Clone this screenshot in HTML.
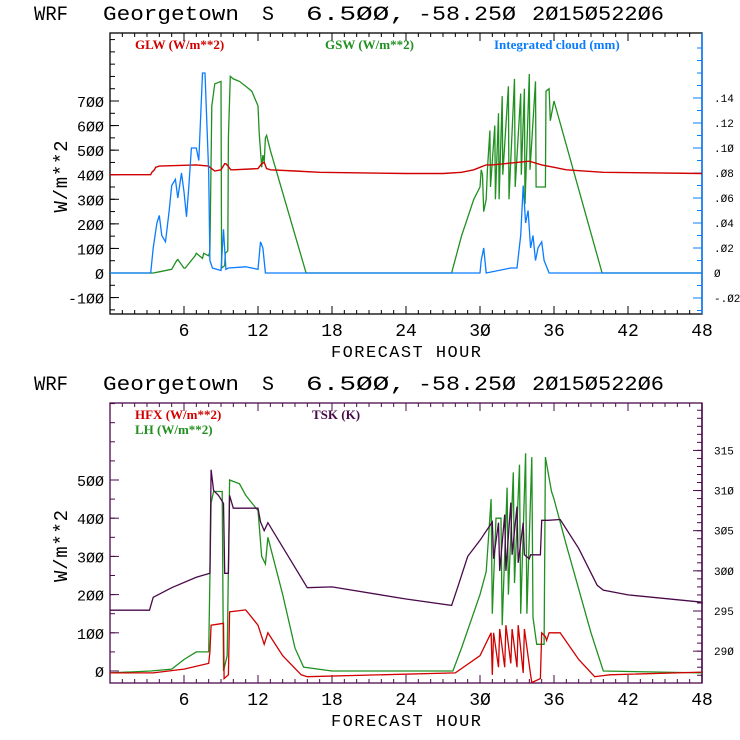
<!DOCTYPE html>
<html><head><meta charset="utf-8"><style>
body{margin:0;background:#fff;}
svg{display:block;font-family:"Liberation Mono",monospace;}
</style></head><body>
<svg id="c" width="740" height="740" xmlns="http://www.w3.org/2000/svg">
<rect width="740" height="740" fill="#fff"/>
</svg>
<script>
// ---------- data ----------
const glwHours=[0,3.3,3.4,3.6,3.7,4,7,8,8.1,8.5,9,9.3,9.4,9.8,10,12,12.3,12.5,12.7,13,15,17,24,27,28.5,29.5,30,30.5,31,32,33,34,35,36,37,40,48];
const glwVals=[400,400,410,420,430,435,440,435,430,415,420,445,445,420,420,425,445,450,425,420,415,410,405,405,410,420,430,440,440,445,450,455,440,430,420,410,405];
const gswHours=[0,3.5,4,5,5.4,5.5,6,6.1,6.9,7,7.5,7.6,8,8.1,8.25,8.5,9.0,9.05,9.3,9.35,9.55,9.6,9.75,10,10.5,11,11.5,12,12.1,12.3,12.4,12.5,12.6,12.7,13,15.9,27.7,28.5,29.5,30,30.1,30.2,30.3,30.5,30.6,30.8,30.85,31.2,31.25,31.5,31.55,31.8,31.85,32.3,32.35,32.8,32.85,33.3,33.35,33.6,33.65,34.0,34.05,34.5,34.55,35.3,35.35,35.6,35.7,36,39.9,48];
const gswVals=[0,0,5,15,50,55,20,20,70,80,60,80,70,90,680,770,780,20,30,80,90,550,800,790,780,760,740,680,570,430,480,450,550,560,500,0,0,150,300,350,420,400,250,300,420,580,350,600,300,650,300,720,400,760,300,790,350,730,400,750,280,810,420,780,350,350,740,750,620,700,0,0];
const cloudHours=[0,3.3,3.5,3.8,4,4.2,4.5,4.8,5,5.3,5.5,5.8,6,6.2,6.4,6.6,7,7.2,7.5,7.7,8,8.1,8.3,9,9.2,9.4,9.6,11,12,12.2,12.4,12.6,30,30.1,30.3,30.5,32.5,33,33.3,33.5,33.7,33.9,34.1,34.3,34.5,34.7,35,35.2,35.4,35.6,48];
const cloudVals=[0,0,0.02,0.04,0.046,0.03,0.025,0.05,0.07,0.075,0.06,0.08,0.065,0.045,0.07,0.1,0.1,0.09,0.16,0.16,0.08,0.01,0.004,0.002,0.035,0.003,0.004,0.005,0.003,0.025,0.02,0,0,0.01,0.02,0,0.004,0.004,0.03,0.07,0.04,0.05,0.02,0.03,0.01,0.02,0.025,0.01,0.005,0,0];
const hfxHours=[0,3.5,6,8,8.1,8.2,9.2,9.25,9.6,9.7,11,12,12.3,12.5,12.8,14,15.5,16,28,30,30.9,31,31.1,31.5,31.6,32,32.1,32.5,32.6,33,33.1,33.5,33.6,34.1,34.2,34.9,35,35.3,35.4,35.6,36,36.5,38,39.3,40,40.5,48];
const hfxVals=[-5,-5,5,20,50,120,125,-20,-10,155,160,120,90,70,100,40,-10,-15,-5,40,100,-10,100,10,110,10,120,20,110,10,120,-5,110,-10,-30,-20,100,90,80,100,100,100,30,-15,-12,-10,-3];
const lhHours=[0,3.3,5,6,7,8.0,8.2,8.4,9.1,9.2,9.5,9.7,10.5,11,12,12.3,12.6,12.8,14,15,15.7,18,27.8,28.5,30,30.5,30.9,31,31.3,31.7,31.8,32.2,32.3,32.7,32.8,33.2,33.3,33.7,33.8,34.2,34.3,34.6,35.2,35.3,35.8,36,37,39,40,48];
const lhVals=[-5,0,5,30,50,50,440,470,470,0,40,500,490,460,420,300,280,350,200,60,10,0,0,60,200,260,450,150,400,400,120,480,200,520,230,540,150,570,150,560,140,70,70,560,470,450,330,100,0,-5];
const tskHours=[0,3.2,3.5,5,7,8.1,8.2,8.4,8.8,9.2,9.3,9.6,9.7,10,12,12.2,12.5,12.8,16,18,24,27.7,28.2,29,30,31,31.1,31.5,31.6,32,32.1,32.5,32.6,33,33.1,33.5,33.6,34,34.1,34.9,35,35.5,36.5,38,39.5,40,42,48];
const tskVals=[295.1,295.1,296.7,297.9,299.2,299.7,312.6,310,309.4,308.4,299.7,299.7,309.4,307.8,307.8,306.1,305,306,297.9,298,296.5,295.7,298,301.8,303.8,306.1,301.5,306,300,307,300,308.5,302,308,301,306,302,301.5,302,302,306.3,306.3,306.4,302.8,298.2,297.6,297,296.1];
const hourTicks=[6,12,18,24,30,36,42,48];
const topLeftTicks=[-100,0,100,200,300,400,500,600,700];
const topRightTicks=[-0.02,0,0.02,0.04,0.06,0.08,0.10,0.12,0.14];
const botLeftTicks=[0,100,200,300,400,500];
const botRightTicks=[290,295,300,305,310,315];

// ---------- helpers ----------
const svg=document.getElementById('c');
const NS='http://www.w3.org/2000/svg';
function mk(tag,attrs,parent){const e=document.createElementNS(NS,tag);for(const k in attrs)e.setAttribute(k,attrs[k]);(parent||svg).appendChild(e);return e;}
const X0=110,X1=702;
const xs=h=>X0+h*(X1-X0)/48;
const yTopL=v=>273-v*0.2457;
const yTopR=c=>273-c*1250;
const yBotL=v=>671-v*0.382;
const yBotR=t=>611-(t-295)*8.03;
function linePath(hs,vs,yf){let d='M'+xs(hs[0]).toFixed(1)+','+yf(vs[0]).toFixed(1);for(let i=1;i<hs.length;i++){d+=' L'+xs(hs[i]).toFixed(1)+','+yf(vs[i]).toFixed(1);}return d;}
function txt(s,x,y,attrs){const t=mk('text',Object.assign({x:x,y:y},attrs));t.textContent=s;return t;}

function panel(top,bot,boxColor,rightColor,leftTicks,yL,rightTicks,yR,rightFmt,minorL,minorR,prefix){
  const g=mk('g',{});
  
  
  const f=mk('rect',{x:X0,y:top,width:X1-X0,height:bot-top,fill:'none',stroke:boxColor,'stroke-width':1.3},g);
  
  
  mk('line',{x1:X1,y1:top,x2:X1,y2:bot,stroke:rightColor,'stroke-width':1.5},g);
  for(let h=1;h<48;h++){const x=xs(h);const L=h%6===0?8:4;
    mk('line',{x1:x,y1:bot,x2:x,y2:bot-L,stroke:boxColor},g);
    mk('line',{x1:x,y1:top,x2:x,y2:top+L,stroke:boxColor},g);}
  hourTicks.forEach(h=>{const t=txt(String(h).replace(/0/g,'Ø'),xs(h),bot+22,{'font-size':18,'text-anchor':'middle',fill:'#000'});
    
    });
  const xt=txt('FORECAST HOUR',406,bot+43,{'font-size':17,'text-anchor':'middle',fill:'#000',textLength:150});
  
  
  minorL.forEach(v=>{const y=yL(v);if(y<top||y>bot)return;mk('line',{x1:X0,y1:y,x2:X0+5,y2:y,stroke:boxColor},g);});
  leftTicks.forEach(v=>{const y=yL(v);mk('line',{x1:X0,y1:y,x2:X0+9,y2:y,stroke:boxColor},g);
    const t=txt(String(v).replace(/0/g,'Ø'),X0-6,y+6,{'font-size':15,'text-anchor':'end',fill:'#000'});
    
    });
  minorR.forEach(v=>{const y=yR(v);if(y<top||y>bot)return;mk('line',{x1:X1,y1:y,x2:X1-5,y2:y,stroke:rightColor},g);});
  rightTicks.forEach(v=>{const y=yR(v);mk('line',{x1:X1,y1:y,x2:X1-9,y2:y,stroke:rightColor},g);
    const t=txt(rightFmt(v),X1+12,y+4,{'font-size':11,fill:'#000'});
    
    });
  const yt=txt('W/m**2',0,0,{'font-size':19,'text-anchor':'middle',fill:'#000',textLength:72,transform:'translate(67,'+((top+bot)/2+3)+') rotate(-90)'});
  
  
}
const titleWords=['WRF','Georgetown','S','6.5ØØ,','-58.25Ø','2Ø15Ø522Ø6'];
const titleX=[34,103,262,306,418,532];
const titleW=[34,136,12,100,98,132];
function title(y,prefix){
  titleWords.forEach((w,i)=>{const t=txt(w,titleX[i],y,{'font-size':20,fill:'#000',textLength:titleW[i],lengthAdjust:'spacingAndGlyphs'});
    
    });
}

// ---------- top panel ----------
title(20,'top');
const mL1=[];for(let v=-150;v<=950;v+=50)mL1.push(v);
const mR1=[];for(let c=-0.03;c<=0.19;c+=0.01)mR1.push(+c.toFixed(2));
panel(33,314,'#000','#0a7cff',topLeftTicks,yTopL,topRightTicks,yTopR,
  v=>{if(v===0)return 'Ø';return (v<0?'-':'')+Math.abs(v).toFixed(2).replace(/^0/,'').replace(/0/g,'Ø');},mL1,mR1,'top');
function leg(s,x,y,col,name){const t=txt(s,x,y,{'font-size':13,'font-family':'Liberation Serif, serif','font-weight':'bold',fill:col});
  
  }
leg('GLW (W/m**2)',135,49,'#d00000','legend-glw');
leg('GSW (W/m**2)',325,49,'#209020','legend-gsw');
leg('Integrated cloud (mm)',494,49,'#0a7cff','legend-cloud');
let p;
p=mk('path',{d:linePath(gswHours,gswVals,yTopL),fill:'none',stroke:'#209020','stroke-width':1.3});


p=mk('path',{d:linePath(glwHours,glwVals,yTopL),fill:'none',stroke:'#d00000','stroke-width':1.4});


p=mk('path',{d:linePath(cloudHours,cloudVals,yTopR),fill:'none',stroke:'#0a7cff','stroke-width':1.3});



// ---------- bottom panel ----------
title(390,'bottom');
const mL2=[];for(let v=-50;v<=750;v+=50)mL2.push(v);
const mR2=[];for(let t=285;t<=320;t++)mR2.push(t);
panel(403,683,'#4a0a4a','#4a0a4a',botLeftTicks,yBotL,botRightTicks,yBotR,v=>String(v).replace(/0/g,'Ø'),mL2,mR2,'bottom');
leg('HFX (W/m**2)',135,419,'#d00000','legend-hfx');
leg('LH  (W/m**2)',135,434,'#209020','legend-lh');
leg('TSK (K)',312,419,'#4a0a4a','legend-tsk');
p=mk('path',{d:linePath(lhHours,lhVals,yBotL),fill:'none',stroke:'#209020','stroke-width':1.3});


p=mk('path',{d:linePath(hfxHours,hfxVals,yBotL),fill:'none',stroke:'#d00000','stroke-width':1.3});


p=mk('path',{d:linePath(tskHours,tskVals,yBotR),fill:'none',stroke:'#4a0a4a','stroke-width':1.3});


</script>
</body></html>
